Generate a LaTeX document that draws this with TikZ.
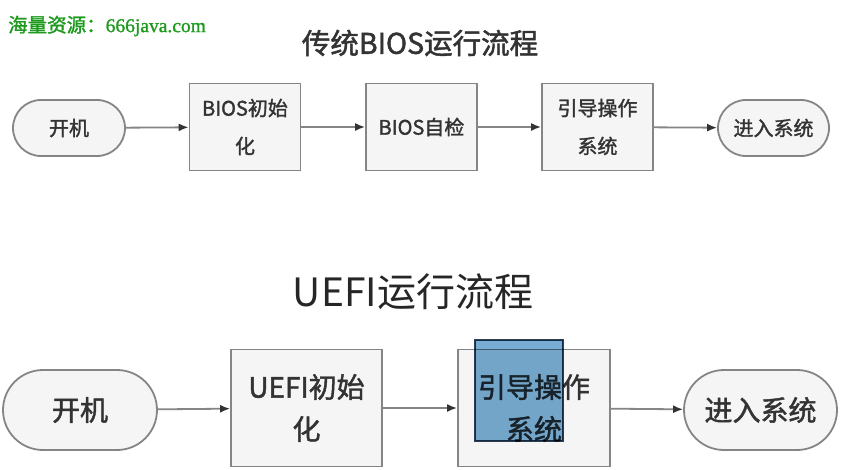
\documentclass[tikz,border=0pt]{standalone}
\usepackage{fontspec}
\setmainfont[AutoFakeBold=1.6]{Noto Sans CJK SC}
\newfontfamily\wmlatin[AutoFakeBold=1.2]{Liberation Serif}
\usetikzlibrary{arrows.meta}
\definecolor{linegray}{HTML}{858585}
\definecolor{txtgray}{HTML}{333333}
\definecolor{boxfill}{HTML}{F5F5F5}
\definecolor{wmgreen}{HTML}{1E9A1E}
\definecolor{overblue}{RGB}{120,172,210}
\definecolor{overedge}{RGB}{45,65,85}
\tikzset{
  procbox/.style={draw=linegray, line width=1.8pt, fill=boxfill, inner sep=0pt, align=center, text=txtgray},
  stadium/.style={procbox, rounded corners=#1},
  smalltxt/.style={font=\fontsize{20}{38}\selectfont\bfseries},
  bigtxt/.style={font=\fontsize{28}{42}\selectfont\bfseries},
  flow/.style={draw=linegray, line width=1.8pt, -{Latex[length=10pt,width=8pt,color=txtgray]}},
}
\begin{document}
\begin{tikzpicture}[x=1pt,y=-1pt]
\useasboundingbox (0,0) rectangle (854,469);
\fill[white] (0,0) rectangle (854,469);
% watermark
\node[anchor=west, inner sep=0pt, text=wmgreen, font=\fontsize{19.5}{21}\selectfont\bfseries] (wm) at (8,26) {海量资源：{\wmlatin 666java.com}};
% titles
\node[inner sep=0pt, text=txtgray, font=\fontsize{28.5}{30}\selectfont\bfseries] (t1) at (420,43) {传统BIOS运行流程};
\node[inner sep=0pt, text=black!85, font=\fontsize{39}{40}\selectfont] (t2) at (413,292) {UEFI运行流程};
% top row
\node[stadium=28pt, smalltxt, minimum width=112pt, minimum height=56pt] (s1) at (69,128) {开机};
\node[procbox, smalltxt, minimum width=111pt, minimum height=87pt] (b1) at (245,127) {BIOS初始\\化};
\node[procbox, smalltxt, minimum width=111pt, minimum height=87pt] (b2) at (421.5,127) {BIOS自检};
\node[procbox, smalltxt, minimum width=111pt, minimum height=87pt] (b3) at (597.5,127) {引导操作\\系统};
\node[stadium=28pt, smalltxt, minimum width=111pt, minimum height=56pt] (s2) at (773.5,128) {进入系统};
\draw[flow] (s1) -- (b1);
\draw[flow] (b1) -- (b2);
\draw[flow] (b2) -- (b3);
\draw[flow] (b3) -- (s2);
% bottom row
\node[stadium=40pt, bigtxt, minimum width=154pt, minimum height=80pt] (s3) at (80,410) {开机};
\node[procbox, bigtxt, minimum width=151pt, minimum height=117pt] (b4) at (306.5,408) {UEFI初始\\化};
\node[procbox, bigtxt, minimum width=152pt, minimum height=117pt] (b5) at (534,408) {引导操作\\系统};
\node[stadium=40pt, bigtxt, minimum width=153pt, minimum height=80pt] (s4) at (760.5,410) {进入系统};
\draw[flow] (s3) -- (b4);
\draw[flow] (b4) -- (b5);
\draw[flow] (b5) -- (s4);
% blue overlay
\begin{scope}[blend mode=multiply]
\node[draw=overedge, line width=1.2pt, fill=overblue, inner sep=0pt, minimum width=88pt, minimum height=101pt] (ov) at (519,390.5) {};
\end{scope}
\end{tikzpicture}
\end{document}
